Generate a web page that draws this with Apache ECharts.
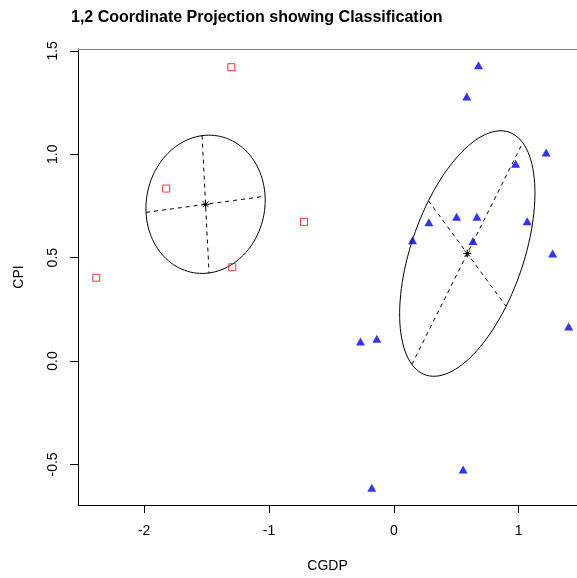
<!DOCTYPE html>
<html><head><meta charset="utf-8">
<script src="https://cdn.jsdelivr.net/npm/echarts@6/dist/echarts.min.js"></script>
<style>html,body{margin:0;padding:0;background:#fff}#c{width:577px;height:578px}</style>
</head><body><div id="c"></div>
<script>
// Class 1 (red open squares)
const class1X = [-1.302, -1.823, -0.719, -1.294, -2.384];
const class1Y = [1.421, 0.834, 0.673, 0.454, 0.403];
// Class 2 (blue filled triangles)
const class2X = [0.679, 0.585, 1.221, 0.976, 0.503, 0.666, 0.281, 1.069, 0.150, 0.634, 1.273, 1.401, -0.267, -0.136, 0.556, -0.176];
const class2Y = [1.431, 1.279, 1.009, 0.954, 0.698, 0.698, 0.671, 0.676, 0.584, 0.581, 0.520, 0.167, 0.095, 0.108, -0.524, -0.613];
// Cluster centres and ellipse half-axes (data units)
const centerX = [-1.508, 0.589];
const centerY = [0.758, 0.520];
const axisAX = [0.477, 0.444];
const axisAY = [0.039, 0.536];
const axisBX = [0.028, 0.311];
const axisBY = [-0.332, -0.255];
// Axes
const xTicks = [-2, -1, 0, 1];
const yTicks = [-0.5, 0, 0.5, 1, 1.5];
const xRange = [-2.53, 1.468];
const yRange = [-0.696, 1.509];

const FONT = 'Liberation Sans, Arial, sans-serif';

function ellipsePts(i) {
  const pts = [];
  const n = 120;
  for (let k = 0; k <= n; k++) {
    const t = 2 * Math.PI * k / n;
    pts.push([centerX[i] + axisAX[i] * Math.cos(t) + axisBX[i] * Math.sin(t),
              centerY[i] + axisAY[i] * Math.cos(t) + axisBY[i] * Math.sin(t)]);
  }
  return pts;
}

const series = [];
for (let i = 0; i < centerX.length; i++) {
  series.push({
    type: 'line', data: ellipsePts(i), showSymbol: false, silent: true,
    lineStyle: { color: '#000', width: 1 }, z: 2
  });
  series.push({
    type: 'line', showSymbol: false, silent: true,
    data: [[centerX[i] - axisAX[i], centerY[i] - axisAY[i]], [centerX[i] + axisAX[i], centerY[i] + axisAY[i]]],
    lineStyle: { color: '#000', width: 1, type: [4, 4] }, z: 2
  });
  series.push({
    type: 'line', showSymbol: false, silent: true,
    data: [[centerX[i] - axisBX[i], centerY[i] - axisBY[i]], [centerX[i] + axisBX[i], centerY[i] + axisBY[i]]],
    lineStyle: { color: '#000', width: 1, type: [4, 4] }, z: 2
  });
}
series.push({
  type: 'scatter', symbol: 'rect', symbolSize: 7,
  data: class1X.map((x, i) => [x, class1Y[i]]),
  itemStyle: { color: 'rgba(0,0,0,0)', borderColor: '#ff0000', borderWidth: 1 }, z: 3
});
series.push({
  type: 'scatter', symbol: 'triangle', symbolSize: [9, 8],
  data: class2X.map((x, i) => [x, class2Y[i]]),
  itemStyle: { color: '#0000ff' }, z: 3
});
series.push({
  type: 'custom', z: 4,
  data: centerX.map((x, i) => [x, centerY[i]]),
  renderItem: function (params, api) {
    const p = api.coord([api.value(0), api.value(1)]);
    const r = 4, d = 2.9;
    const st = { stroke: '#000', lineWidth: 1 };
    return {
      type: 'group', children: [
        { type: 'line', shape: { x1: p[0] - r, y1: p[1], x2: p[0] + r, y2: p[1] }, style: st },
        { type: 'line', shape: { x1: p[0], y1: p[1] - r, x2: p[0], y2: p[1] + r }, style: st },
        { type: 'line', shape: { x1: p[0] - d, y1: p[1] - d, x2: p[0] + d, y2: p[1] + d }, style: st },
        { type: 'line', shape: { x1: p[0] - d, y1: p[1] + d, x2: p[0] + d, y2: p[1] - d }, style: st }
      ]
    };
  }
});

const chart = echarts.init(document.getElementById('c'), null, { renderer: 'canvas' });
chart.setOption({
  animation: false,
  backgroundColor: '#fff',
  title: {
    text: '1,2 Coordinate Projection showing Classification',
    left: 66, top: 5,
    textStyle: { fontFamily: FONT, fontSize: 16, fontWeight: 'bold', color: '#000' }
  },
  grid: { left: 78, top: 49, right: 0, bottom: 72, containLabel: false },
  xAxis: [{
    type: 'value', min: xRange[0], max: xRange[1], position: 'bottom',
    name: 'CGDP', nameLocation: 'middle', nameGap: 54,
    nameTextStyle: { fontFamily: FONT, fontSize: 14, color: '#000' },
    axisLine: { show: true, onZero: false, lineStyle: { color: '#000', width: 1 } },
    axisTick: { show: true, length: 8, customValues: xTicks, lineStyle: { color: '#000' } },
    axisLabel: { customValues: xTicks, margin: 19, fontFamily: FONT, fontSize: 14, color: '#000',
      formatter: v => String(v) },
    splitLine: { show: false }
  }, {
    type: 'value', min: xRange[0], max: xRange[1], position: 'top',
    axisLine: { show: true, onZero: false, lineStyle: { color: '#808080', width: 1 } },
    axisTick: { show: false }, axisLabel: { show: false }, splitLine: { show: false }
  }],
  yAxis: {
    type: 'value', min: yRange[0], max: yRange[1],
    name: 'CPI', nameLocation: 'middle', nameGap: 52,
    nameTextStyle: { fontFamily: FONT, fontSize: 14, color: '#000' },
    axisLine: { show: true, onZero: false, lineStyle: { color: '#000', width: 1 } },
    axisTick: { show: true, length: 8, customValues: yTicks, lineStyle: { color: '#000' } },
    axisLabel: { customValues: yTicks, rotate: 90, margin: 18, fontFamily: FONT, fontSize: 14, color: '#000',
      formatter: v => v.toFixed(1) },
    splitLine: { show: false }
  },
  series: series
});
</script></body></html>
